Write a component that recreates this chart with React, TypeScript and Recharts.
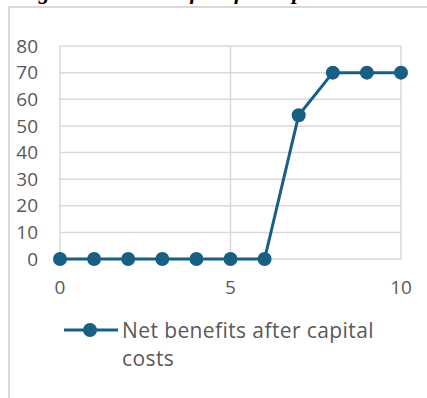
import { CartesianGrid, Line, LineChart, XAxis, YAxis } from "recharts";

const years = [0, 1, 2, 3, 4, 5, 6, 7, 8, 9, 10];
const netBenefits = [0, 0, 0, 0, 0, 0, 0, 54, 70, 70, 70];
const xTicks = [0, 5, 10];
const yTicks = [0, 10, 20, 30, 40, 50, 60, 70, 80];

const seriesName = "Net benefits after capital costs";
const lineColor = "#195e83";
const font = "'Open Sans', 'Liberation Sans', Arial, sans-serif";

const data = years.map((year, i) => ({ year, value: netBenefits[i] }));

function LegendBox() {
  return (
    <div style={{ display: "flex", alignItems: "flex-start", fontFamily: font }}>
      <svg width={62} height={28} style={{ flex: "none" }}>
        <line x1={4} y1={14} x2={58} y2={14} stroke={lineColor} strokeWidth={3} />
        <circle cx={30} cy={14} r={7} fill={lineColor} />
      </svg>
      <span
        style={{
          fontSize: 21,
          letterSpacing: 0.4,
          lineHeight: "28px",
          color: "#595959",
          width: 275,
        }}
      >
        {seriesName}
      </span>
    </div>
  );
}

export default function App() {
  return (
    <div
      style={{
        position: "absolute",
        left: 0,
        top: 0,
        width: 427,
        height: 398,
        overflow: "hidden",
        background: "#fff",
      }}
    >
      <div
        style={{
          position: "absolute",
          left: 0,
          top: 0,
          width: 427,
          height: 5,
          overflow: "hidden",
        }}
      >
        <div
          style={{
            position: "absolute",
            left: 18,
            top: -21,
            whiteSpace: "nowrap",
            fontFamily: "'Liberation Serif', serif",
            fontWeight: "bold",
            fontStyle: "italic",
            fontSize: 22,
          }}
        >
          Figure 6: Net benefits after capital costs
        </div>
      </div>
      <div
        style={{
          position: "absolute",
          left: 8,
          top: 6,
          width: 440,
          height: 420,
          border: "2px solid #d9d9d9",
        }}
      />
      <div style={{ position: "absolute", left: 0, top: 0 }}>
        <LineChart
          width={427}
          height={398}
          data={data}
          margin={{ top: 46, right: 26, bottom: 99, left: 0 }}
        >
          <CartesianGrid stroke="#d9d9d9" strokeWidth={1.5} />
          <XAxis
            dataKey="year"
            type="number"
            domain={[0, 10]}
            ticks={xTicks}
            axisLine={false}
            tickLine={false}
            tickSize={0}
            tickMargin={22}
            height={40}
            tick={{ fill: "#595959", fontSize: 19, fontFamily: font }}
          />
          <YAxis
            domain={[0, 80]}
            ticks={yTicks}
            axisLine={false}
            tickLine={false}
            tickSize={0}
            tickMargin={22}
            width={60}
            interval={0}
            tick={{ fill: "#595959", fontSize: 19, fontFamily: font }}
          />
          <Line
            type="linear"
            dataKey="value"
            name={seriesName}
            stroke={lineColor}
            strokeWidth={3}
            dot={{ r: 7, fill: lineColor, stroke: lineColor, strokeWidth: 0 }}
            isAnimationActive={false}
          />
        </LineChart>
      </div>
      <div style={{ position: "absolute", left: 60, top: 316 }}>
        <LegendBox />
      </div>
    </div>
  );
}
